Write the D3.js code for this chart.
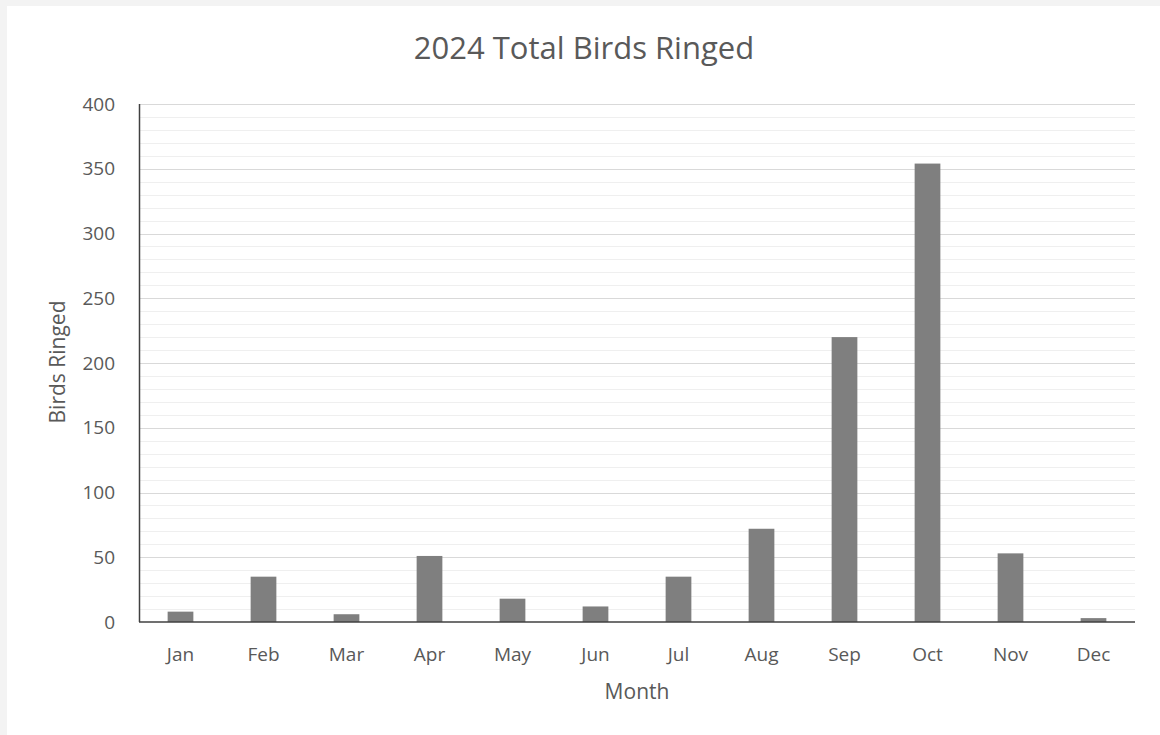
<!DOCTYPE html>
<html lang="en">
<head>
<meta charset="UTF-8">
<title>2024 Total Birds Ringed</title>
<script src="https://d3js.org/d3.v7.min.js"></script>
<style>
  html, body { margin: 0; padding: 0; background: #f3f3f3; }
  svg { display: block; }
  text { font-family: "Open Sans", "Noto Sans", sans-serif; fill: #595959; }
</style>
</head>
<body>
<div id="chart"></div>
<script>
// data
const months = ["Jan", "Feb", "Mar", "Apr", "May", "Jun", "Jul", "Aug", "Sep", "Oct", "Nov", "Dec"];
const ringed = [8, 35, 6, 51, 18, 12, 35, 72, 220, 354, 53, 3];
const yTicks = [0, 50, 100, 150, 200, 250, 300, 350, 400];

const W = 1160, H = 735;
const m = { top: 104, right: 25, bottom: 113, left: 139 };

const svg = d3.select("#chart").append("svg")
    .attr("width", W)
    .attr("height", H);

// white panel inside the grey frame
svg.append("rect")
    .attr("x", 7).attr("y", 6)
    .attr("width", W - 7).attr("height", H - 6)
    .attr("fill", "#fff");

const x = d3.scaleBand()
    .domain(months)
    .range([m.left, W - m.right])
    .padding(0);

const y = d3.scaleLinear()
    .domain([0, 400])
    .range([H - m.bottom, m.top]);

// minor gridlines every 10
svg.append("g")
    .selectAll("line")
    .data(d3.range(10, 400, 10).filter(v => v % 50 !== 0))
    .join("line")
    .attr("x1", m.left).attr("x2", W - m.right)
    .attr("y1", d => Math.round(y(d)) + 0.5)
    .attr("y2", d => Math.round(y(d)) + 0.5)
    .attr("stroke", "#efefef");

// major gridlines
svg.append("g")
    .selectAll("line")
    .data(yTicks.filter(v => v > 0))
    .join("line")
    .attr("x1", m.left).attr("x2", W - m.right)
    .attr("y1", d => Math.round(y(d)) + 0.5)
    .attr("y2", d => Math.round(y(d)) + 0.5)
    .attr("stroke", "#d9d9d9");

// bars
const barW = x.bandwidth() * 0.31;
svg.append("g")
    .selectAll("rect")
    .data(months)
    .join("rect")
    .attr("x", d => x(d) + (x.bandwidth() - barW) / 2)
    .attr("y", (d, i) => y(ringed[i]))
    .attr("width", barW)
    .attr("height", (d, i) => y(0) - y(ringed[i]))
    .attr("fill", "#7f7f7f");

// axis lines
svg.append("line")
    .attr("x1", m.left + 0.5).attr("x2", m.left + 0.5)
    .attr("y1", y(400)).attr("y2", y(0))
    .attr("stroke", "#404040").attr("stroke-width", 1.5);
svg.append("line")
    .attr("x1", m.left).attr("x2", W - m.right)
    .attr("y1", y(0)).attr("y2", y(0))
    .attr("stroke", "#404040").attr("stroke-width", 1.5);

// y tick labels
svg.append("g")
    .selectAll("text")
    .data(yTicks)
    .join("text")
    .attr("x", 115)
    .attr("y", d => y(d))
    .attr("dy", "0.35em")
    .attr("text-anchor", "end")
    .attr("font-size", 19)
    .text(d => d);

// x tick labels
svg.append("g")
    .selectAll("text")
    .data(months)
    .join("text")
    .attr("x", d => x(d) + x.bandwidth() / 2)
    .attr("y", 661)
    .attr("text-anchor", "middle")
    .attr("font-size", 19)
    .text(d => d);

// titles
svg.append("text")
    .attr("x", 584).attr("y", 59)
    .attr("text-anchor", "middle")
    .attr("font-size", 31)
    .text("2024 Total Birds Ringed");

svg.append("text")
    .attr("x", 637).attr("y", 699)
    .attr("text-anchor", "middle")
    .attr("font-size", 21)
    .text("Month");

svg.append("text")
    .attr("transform", "translate(65,362) rotate(-90)")
    .attr("text-anchor", "middle")
    .attr("font-size", 21)
    .text("Birds Ringed");
</script>
</body>
</html>
